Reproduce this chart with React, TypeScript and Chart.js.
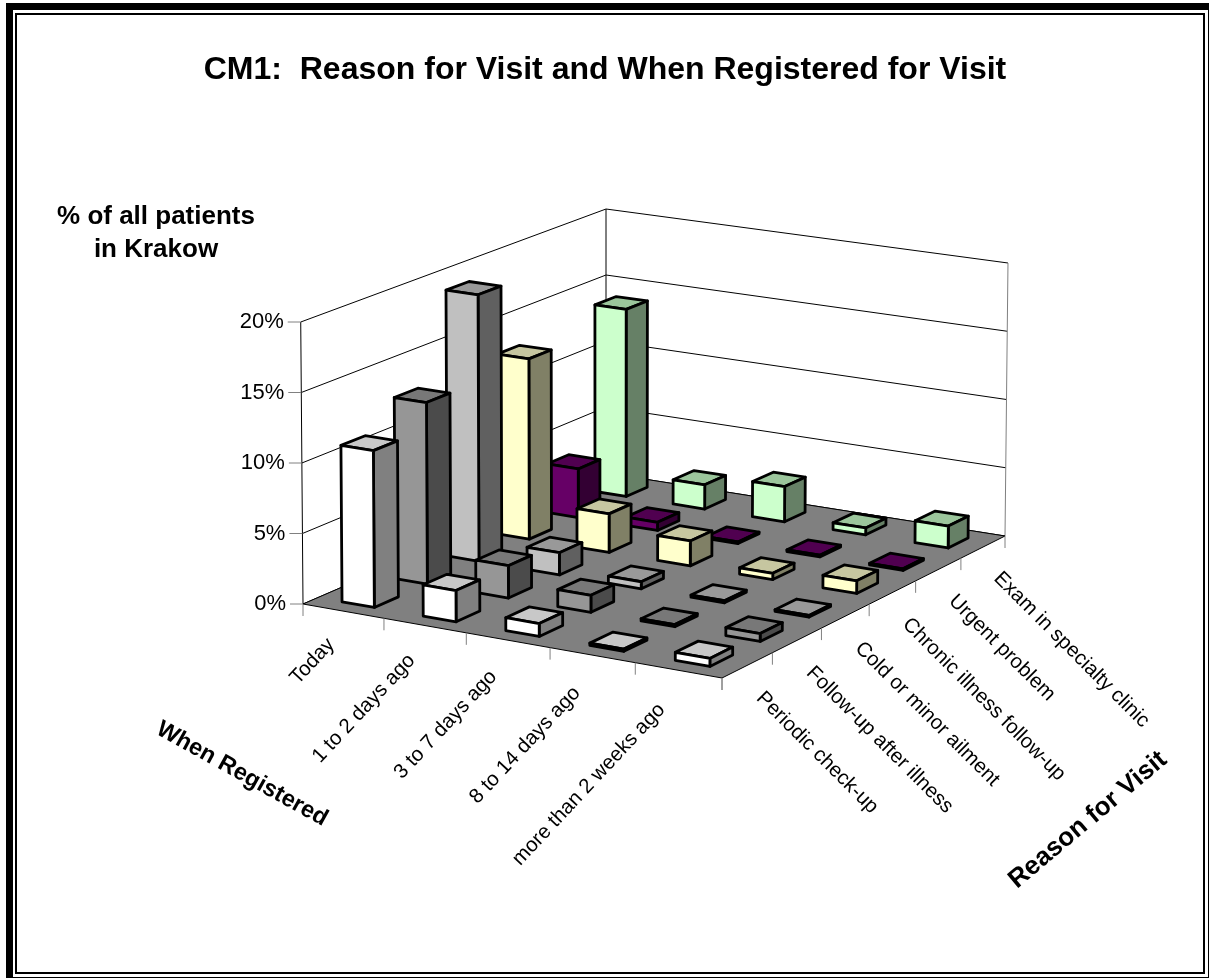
import React, { useEffect, useRef } from "react";
import { Chart, registerables } from "chart.js";

Chart.register(...registerables);

const whenLabels = ["Today", "1 to 2 days ago", "3 to 7 days ago", "8 to 14 days ago", "more than 2 weeks ago"];
const reasonLabels = ["Periodic check-up", "Follow-up after illness", "Cold or minor ailment", "Chronic illness follow-up", "Urgent problem", "Exam in specialty clinic"];
const periodic = [11.1, 2.2, 0.9, 0.15, 0.55];
const followUp = [13.0, 2.3, 1.2, 0.15, 0.55];
const coldMinor = [19.3, 1.6, 0.5, 0.15, 0.12];
const chronic = [13.2, 2.8, 1.8, 0.45, 0.9];
const urgent = [3.6, 0.6, 0.12, 0.12, 0.12];
const exam = [14.0, 1.8, 2.6, 0.5, 1.6];
const seriesValues = [periodic, followUp, coldMinor, chronic, urgent, exam];
const frontColors = ["#ffffff", "#969696", "#c0c0c0", "#ffffcc", "#660066", "#ccffcc"];
const topColors = ["#c8c8c8", "#787878", "#999999", "#c6c6a0", "#500050", "#9cc69c"];
const sideColors = ["#808080", "#4b4b4b", "#606060", "#808066", "#330033", "#668066"];
const titleText = "CM1:  Reason for Visit and When Registered for Visit";
const valueAxisTitle = ["% of all patients", "in Krakow"];
const whenAxisTitle = "When Registered";
const reasonAxisTitle = "Reason for Visit";

const FONT = '"Liberation Sans", Arial, sans-serif';

// projective map of the unit floor square
const Q = [[303, 604], [722, 678], [1005, 536], [606, 473]];
function makeProjector() {
  const [[x0, y0], [x1, y1], [x2, y2], [x3, y3]] = Q;
  const sx = x0 - x1 + x2 - x3, sy = y0 - y1 + y2 - y3;
  const dx1 = x1 - x2, dx2 = x3 - x2, dy1 = y1 - y2, dy2 = y3 - y2;
  const den = dx1 * dy2 - dx2 * dy1;
  const g = (sx * dy2 - dx2 * sy) / den;
  const h = (dx1 * sy - sx * dy1) / den;
  const a = x1 - x0 + g * x1, b = x3 - x0 + h * x3, c = x0;
  const d = y1 - y0 + g * y1, e = y3 - y0 + h * y3, f = y0;
  const H0 = 282, Hb = 264 * (1 + h), Hr = 273 * (1 + g + h);
  const C = Hb - H0, B = Hr - H0 - C;
  return (u: number, v: number, t: number) => {
    const w = g * u + h * v + 1;
    const X = (a * u + b * v + c) / w;
    const Y = (d * u + e * v + f) / w;
    const tall = (H0 + B * u + C * v) / w;
    return [X + (X - 606) * 0.0075 * t, Y - tall * t] as [number, number];
  };
}
const P = makeProjector();

function poly(ctx: CanvasRenderingContext2D, pts: [number, number][], fill: string | null, stroke: string | null, lw = 1) {
  ctx.beginPath();
  pts.forEach((p, i) => (i ? ctx.lineTo(p[0], p[1]) : ctx.moveTo(p[0], p[1])));
  ctx.closePath();
  if (fill) { ctx.fillStyle = fill; ctx.fill(); }
  if (stroke) { ctx.strokeStyle = stroke; ctx.lineWidth = lw; ctx.stroke(); }
}
function seg(ctx: CanvasRenderingContext2D, a: [number, number], b: [number, number], color = "#000", lw = 1) {
  ctx.beginPath();
  ctx.moveTo(a[0], a[1]);
  ctx.lineTo(b[0], b[1]);
  ctx.strokeStyle = color;
  ctx.lineWidth = lw;
  ctx.stroke();
}
function rotText(ctx: CanvasRenderingContext2D, s: string, x: number, y: number, deg: number, font: string, align: CanvasTextAlign) {
  ctx.save();
  ctx.translate(x, y);
  ctx.rotate((deg * Math.PI) / 180);
  ctx.font = font;
  ctx.fillStyle = "#000";
  ctx.textAlign = align;
  ctx.textBaseline = "middle";
  ctx.fillText(s, 0, 0);
  ctx.restore();
}

const scene3d = {
  id: "scene3d",
  beforeDraw(chart: any) {
    const ctx: CanvasRenderingContext2D = chart.ctx;
    ctx.save();
    ctx.fillStyle = "#000";
    ctx.fillRect(6, 3, 1203, 975);
    ctx.fillStyle = "#fff";
    ctx.fillRect(13, 10, 1195, 967);
    ctx.strokeStyle = "#000";
    ctx.lineWidth = 2;
    ctx.strokeRect(16, 14, 1188, 959);
    ctx.restore();
  },
  beforeDatasetsDraw(chart: any) {
    const ctx: CanvasRenderingContext2D = chart.ctx;
    const xs = chart.scales.x, rs = chart.scales.reason, ys = chart.scales.y;
    const uOf = (i: number) => (xs.getPixelForValue(i) - xs.left) / xs.width;
    const vOf = (j: number) => (rs.getPixelForValue(j) - rs.left) / rs.width;
    const tOf = (val: number) => (ys.bottom - ys.getPixelForValue(val)) / ys.height;
    ctx.save();
    ctx.lineJoin = "round";

    // walls
    const gridVals = ys.ticks.map((k: any) => k.value);
    gridVals.forEach((val: number) => {
      const t = tOf(val);
      seg(ctx, P(0, 0, t), P(0, 1, t));
      seg(ctx, P(0, 1, t), P(1, 1, t));
    });
    seg(ctx, P(0, 0, 0), P(0, 0, 1));
    seg(ctx, P(0, 1, 0), P(0, 1, 1));
    seg(ctx, P(1, 1, 0), P(1, 1, 1), "#808080", 1);

    // floor
    poly(ctx, [P(0, 0, 0), P(1, 0, 0), P(1, 1, 0), P(0, 1, 0)], "#808080", "#000", 1);

    // ticks
    const tickFont = `22px ${FONT}`;
    const labelFont = `20.5px ${FONT}`;
    for (let i = 0; i <= whenLabels.length; i++) {
      const p = P(i / whenLabels.length, 0, 0);
      seg(ctx, p, [p[0], p[1] + 12], "#808080", 1);
    }
    for (let j = 0; j <= reasonLabels.length; j++) {
      const p = P(1, j / reasonLabels.length, 0);
      seg(ctx, p, [p[0], p[1] + 12], "#808080", 1);
    }
    gridVals.forEach((val: number, k: number) => {
      const p = P(0, 0, tOf(val));
      seg(ctx, [p[0] - 13, p[1]], p, "#808080", 1);
      rotText(ctx, ys.ticks[k].label, p[0] - 17, p[1], 0, tickFont, "right");
    });

    // bars, far to near
    const halfU = 0.2, halfV = 0.225;
    const n = whenLabels.length, m = reasonLabels.length;
    for (let j = m - 1; j >= 0; j--) {
      const meta = chart.getDatasetMeta(j);
      for (let i = 0; i < n; i++) {
        const t = tOf(meta._parsed[i].y);
        const u = uOf(i), v = vOf(j);
        const u0 = u - halfU / n, u1 = u + halfU / n, v0 = v - halfV / m, v1 = v + halfV / m;
        const lw = 2.8;
        poly(ctx, [P(u0, v0, t), P(u1, v0, t), P(u1, v1, t), P(u0, v1, t)], topColors[j], "#000", lw);
        poly(ctx, [P(u1, v0, 0), P(u1, v1, 0), P(u1, v1, t), P(u1, v0, t)], sideColors[j], "#000", lw);
        poly(ctx, [P(u0, v0, 0), P(u1, v0, 0), P(u1, v0, t), P(u0, v0, t)], frontColors[j], "#000", lw);
      }
    }

    // category labels
    whenLabels.forEach((s, i) => {
      const u = uOf(i);
      const p = P(u, 0, 0);
      rotText(ctx, s, p[0] - 11.5 - 6 * u, p[1] + 29.5 + 7.5 * u, -47, labelFont, "right");
    });
    reasonLabels.forEach((s, j) => {
      const v = vOf(j);
      const p = P(1, v, 0);
      rotText(ctx, s, p[0] + 12 + 2 * v, p[1] + 30 - 2 * v, 45, labelFont, "left");
    });

    // axis titles
    const boldFont = `bold 26px ${FONT}`;
    rotText(ctx, valueAxisTitle[0], 156, 217, 0, boldFont, "center");
    rotText(ctx, valueAxisTitle[1], 156, 250, 0, boldFont, "center");
    rotText(ctx, whenAxisTitle, 242, 774, 29, `bold 23.5px ${FONT}`, "center");
    rotText(ctx, reasonAxisTitle, 1088, 820, -40, `bold 26px ${FONT}`, "center");
    ctx.restore();
    return false;
  },
};

export default function App() {
  const ref = useRef<HTMLCanvasElement | null>(null);
  useEffect(() => {
    const canvas = ref.current;
    if (!canvas) return;
    const chart = new Chart(canvas, {
      type: "bar",
      data: {
        labels: whenLabels,
        datasets: reasonLabels.map((label, j) => ({
          label,
          data: seriesValues[j],
          backgroundColor: frontColors[j],
          borderColor: "#000",
        })),
      },
      options: {
        responsive: false,
        animation: false,
        layout: { padding: 0 },
        plugins: {
          legend: { display: false },
          tooltip: { enabled: false },
          title: {
            display: true,
            text: titleText,
            color: "#000",
            font: { family: FONT, size: 32, weight: "bold" },
            padding: { top: 51, bottom: 10 },
          },
        },
        scales: {
          x: { type: "category", offset: true, display: false },
          reason: { type: "category", axis: "x", labels: reasonLabels, offset: true, display: false },
          y: {
            type: "linear",
            min: 0,
            max: 20,
            display: false,
            ticks: { stepSize: 5, callback: (v: any) => `${v}%` },
          },
        },
      },
      plugins: [scene3d],
    } as any);
    return () => chart.destroy();
  }, []);
  return (
    <canvas
      ref={ref}
      width={1210}
      height={980}
      style={{ position: "absolute", left: 0, top: 0, display: "block", background: "#fff" }}
    />
  );
}
